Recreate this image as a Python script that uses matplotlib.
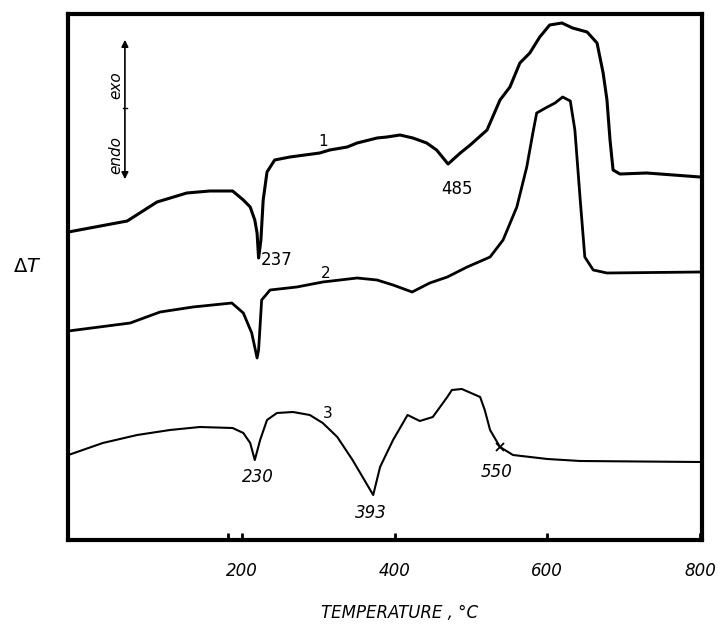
import numpy as np
import matplotlib
matplotlib.use('Agg')
import matplotlib.pyplot as plt

# DTA curves (temperature in C, dT in arbitrary units)
t1 = [-27, 50, 89, 128, 158, 188, 202, 211, 217, 220, 222, 225, 228, 233, 243, 263, 302, 315, 338,
      351, 377, 390, 407, 424, 442, 455, 470, 486, 499, 521, 538, 551, 564, 577, 590, 603, 619,
      633, 652, 665, 673, 678, 682, 686, 695, 730, 800]
d1 = [308, 319, 338, 347, 349, 349, 340, 333, 320, 307, 282, 300, 340, 368, 380, 383, 387, 390, 393,
      397, 402, 403, 405, 402, 397, 390, 376, 387, 395, 410, 440, 453, 477, 487, 503, 515, 517,
      512, 508, 497, 467, 440, 400, 370, 366, 367, 363]

t2 = [-27, 54, 93, 136, 187, 202, 213, 220, 222, 226, 237, 272, 306, 351, 377, 398, 423, 446, 469,
      495, 525, 542, 560, 573, 581, 586, 600, 610, 620, 630, 636, 643, 649, 660, 678, 800]
d2 = [209, 217, 228, 233, 237, 227, 207, 182, 190, 240, 250, 253, 258, 262, 260, 255, 248, 257, 263,
      273, 283, 300, 333, 373, 407, 427, 433, 437, 443, 439, 410, 340, 283, 270, 267, 268]

t3 = [-27, 18, 63, 106, 145, 188, 202, 211, 217, 224, 233, 246, 267, 289, 306, 325, 345, 372, 381,
      398, 417, 433, 450, 469, 475, 488, 512, 518, 525, 538, 555, 600, 643, 800]
d3 = [85, 97, 105, 110, 113, 112, 107, 97, 80, 100, 120, 127, 128, 125, 117, 103, 80, 45, 73,
      100, 125, 119, 123, 143, 150, 151, 143, 130, 110, 93, 85, 81, 79, 78]

xticks = [200, 400, 600, 800]
xticklabels = ['200', '400', '600', '800']

fig = plt.figure(figsize=(7.21, 6.25), dpi=100)
ax = fig.add_axes([68 / 721, 1 - 540 / 625, 634 / 721, 526 / 625])

ax.plot(t1, d1, color='black', lw=2.2, solid_joinstyle='round')
ax.plot(t2, d2, color='black', lw=2.0, solid_joinstyle='round')
ax.plot(t3, d3, color='black', lw=1.5, solid_joinstyle='round')
ax.plot([538], [93], marker='x', color='black', ms=6, mew=1.3)

ax.set_xlim(-27.5, 802.4)
ax.set_ylim(0, 526)
ax.set_xticks(xticks)
ax.set_xticklabels(xticklabels, style='italic', fontsize=12)
ax.set_xticks([182], minor=True)
ax.tick_params(axis='x', which='both', direction='in', length=5, width=2, pad=16)
ax.set_yticks([])
for s in ax.spines.values():
    s.set_linewidth(3)

# peak labels
ax.text(225, 280, '237', fontsize=12, va='center', ha='left')
ax.text(306, 398, '1', fontsize=11, ha='center', va='center')
ax.text(482, 351, '485', fontsize=12, ha='center', va='center')
ax.text(310, 267, '2', fontsize=11, ha='center', va='center')
ax.text(313, 127, '3', fontsize=11, ha='center', va='center')
ax.text(221, 63, '230', fontsize=12, ha='center', va='center', style='italic')
ax.text(369, 27, '393', fontsize=12, ha='center', va='center', style='italic')
ax.text(534, 68, '550', fontsize=12, ha='center', va='center', style='italic')

# endo / exo arrow
ax.annotate('', xy=(47, 503), xytext=(47, 358),
            arrowprops=dict(arrowstyle='<|-|>', color='black', lw=1.2, mutation_scale=10))
ax.plot([44, 50], [432, 432], color='black', lw=1)
ax.text(35, 455, 'exo', rotation=90, fontsize=11, ha='center', va='center', style='italic')
ax.text(35, 385, 'endo', rotation=90, fontsize=11, ha='center', va='center', style='italic')

fig.text(27 / 721, 1 - 267 / 625, r'$\Delta T$', fontsize=14, ha='center', va='center')
fig.text(400 / 721, 1 - 613 / 625, 'TEMPERATURE , \u00b0C', fontsize=12, ha='center', va='center',
         style='italic')

plt.savefig('out.png', dpi=100)
plt.close()
